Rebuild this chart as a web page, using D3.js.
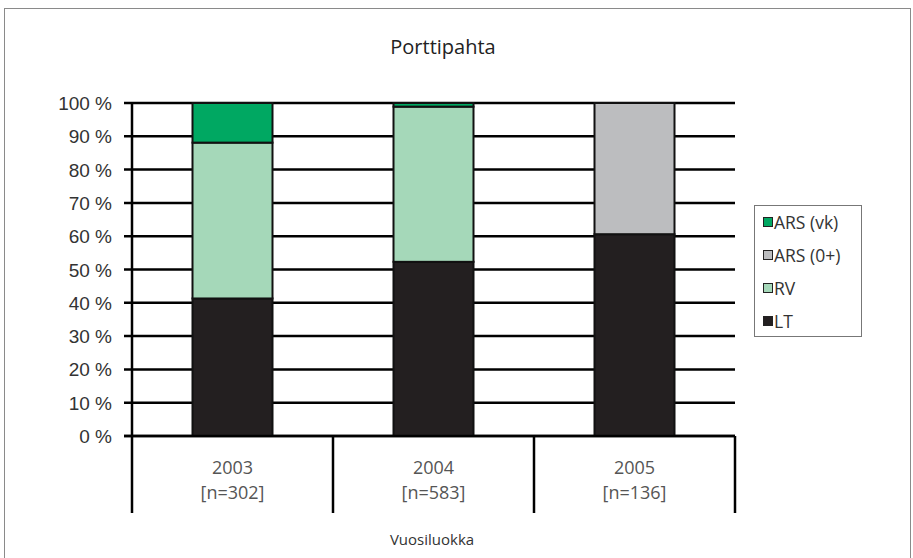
<!DOCTYPE html>
<html><head><meta charset="utf-8">
<script src="https://cdn.jsdelivr.net/npm/d3@7"></script>
<style>body{margin:0;background:#fff}svg{display:block}</style>
</head><body><svg id="c" width="913" height="558"></svg>
<script>
const categories = ["2003", "2004", "2005"];
const nLabels = ["[n=302]", "[n=583]", "[n=136]"];
const seriesNames = ["LT", "RV", "ARS (0+)", "ARS (vk)"];
const LT = [41.3, 52.3, 60.6];
const RV = [46.8, 46.6, 0];
const ARS0 = [0, 0, 39.4];
const ARSvk = [11.9, 1.1, 0];
const yTicks = [0,10,20,30,40,50,60,70,80,90,100];
const colors = {"LT":"#231f20","RV":"#a5d8b9","ARS (0+)":"#bcbdbf","ARS (vk)":"#00a862"};
const legendOrder = ["ARS (vk)", "ARS (0+)", "RV", "LT"];

const svg = d3.select("#c");
svg.append("rect").attr("x",4.5).attr("y",8.5).attr("width",906).attr("height",560)
  .attr("fill","#fff").attr("stroke","#8a8a8a").attr("stroke-width",1);

const pL=132, pR=735, pT=103, pB=436;
const x = d3.scaleBand().domain(categories).range([pL,pR]).paddingInner(0).paddingOuter(0);
const y = d3.scaleLinear().domain([0,100]).range([pB,pT]);

svg.append("text").attr("x",443).attr("y",54).attr("text-anchor","middle")
  .attr("font-family","Open Sans").attr("font-size",20).attr("fill","#222").text("Porttipahta");

// grid lines
svg.append("g").selectAll("line").data(yTicks).join("line")
  .attr("x1",pL-8).attr("x2",pR).attr("y1",d=>y(d)).attr("y2",d=>y(d))
  .attr("stroke","#000").attr("stroke-width",2.5);

// y labels
svg.append("g").selectAll("text").data(yTicks).join("text")
  .attr("x",112).attr("y",d=>y(d)+7).attr("text-anchor","end")
  .attr("font-family","Liberation Sans").attr("font-size",19).attr("fill","#333")
  .text(d=>d+" %");

// stacked bars
const table = categories.map((c,i)=>({cat:c,"LT":LT[i],"RV":RV[i],"ARS (0+)":ARS0[i],"ARS (vk)":ARSvk[i]}));
const stacked = d3.stack().keys(seriesNames)(table);
const bw = 80;
svg.append("g").selectAll("g").data(stacked).join("g")
  .attr("fill",d=>colors[d.key])
  .selectAll("rect").data(d=>d.filter(s=>s[1]-s[0]>0)).join("rect")
  .attr("x",d=>x(d.data.cat)+x.bandwidth()/2-bw/2).attr("width",bw)
  .attr("y",d=>y(d[1])).attr("height",d=>y(d[0])-y(d[1]))
  .attr("stroke","#111").attr("stroke-width",2);

// axes lines
svg.append("line").attr("x1",pL).attr("x2",pL).attr("y1",pT).attr("y2",513)
  .attr("stroke","#000").attr("stroke-width",2.5);
svg.append("line").attr("x1",pL-8).attr("x2",pR).attr("y1",pB).attr("y2",pB)
  .attr("stroke","#000").attr("stroke-width",2.5);
svg.append("g").selectAll("line").data(categories).join("line")
  .attr("x1",d=>x(d)+x.bandwidth()).attr("x2",d=>x(d)+x.bandwidth())
  .attr("y1",pB).attr("y2",513).attr("stroke","#000").attr("stroke-width",2.5);

// category labels
const cl = svg.append("g");
cl.selectAll("text.yr").data(categories).join("text").attr("class","yr")
  .attr("x",d=>x(d)+x.bandwidth()/2).attr("y",474).attr("text-anchor","middle")
  .attr("font-family","Open Sans").attr("font-size",18).attr("fill","#555").text(d=>d);
cl.selectAll("text.n").data(categories).join("text").attr("class","n")
  .attr("x",d=>x(d)+x.bandwidth()/2).attr("y",499).attr("text-anchor","middle")
  .attr("font-family","Open Sans").attr("font-size",18).attr("fill","#555").text((d,i)=>nLabels[i]);

svg.append("text").attr("x",432).attr("y",545).attr("text-anchor","middle")
  .attr("font-family","Open Sans").attr("font-size",15).attr("fill","#333").text("Vuosiluokka");

// legend
const lg = svg.append("g");
lg.append("rect").attr("x",754.5).attr("y",205.5).attr("width",107).attr("height",131)
  .attr("fill","#fff").attr("stroke","#777").attr("stroke-width",1);
const li = lg.selectAll("g").data(legendOrder).join("g")
  .attr("transform",(d,i)=>`translate(0,${222+i*33})`);
li.append("rect").attr("x",763.5).attr("y",-4.5).attr("width",9).attr("height",9)
  .attr("fill",d=>colors[d]).attr("stroke","#222").attr("stroke-width",1);
li.append("text").attr("x",774).attr("y",6.5).attr("font-family","Open Sans").attr("font-size",17.5)
  .attr("fill","#333").text(d=>d);
</script></body></html>
